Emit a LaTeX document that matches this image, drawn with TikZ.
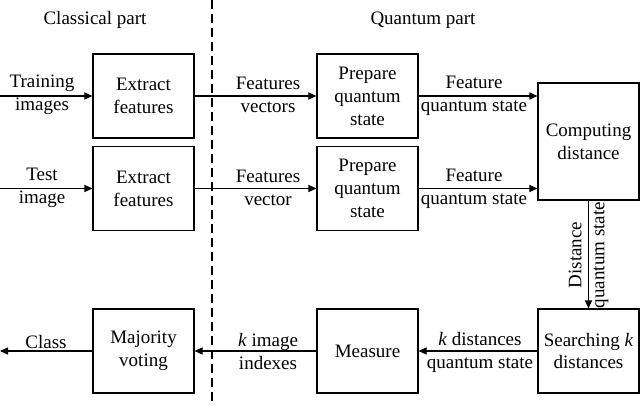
\documentclass[tikz,border=0pt]{standalone}
\usepackage{fontspec}
\setmainfont{Liberation Serif}
\usetikzlibrary{arrows.meta}
\begin{document}
\begin{tikzpicture}[x=1pt,y=-1pt,
  every node/.style={font=\fontsize{19}{23}\selectfont, align=center, inner sep=0pt},
  blk/.style={draw, line width=1.1pt, minimum width=101pt, minimum height=84pt},
  conn/.style={line width=1.1pt, -{Triangle[length=8pt,width=7pt]}},
  sep/.style={line width=1.2pt, dash pattern=on 9pt off 5pt}]
\useasboundingbox (0,0) rectangle (640,406);
% headers
\node (hc) at (95,20) {Classical part};
\node (hq) at (423,20) {Quantum part};
% separator
\coordinate (st) at (212,0);
\coordinate (sb) at (212,406);
\draw[sep] (st) -- (sb);
% boxes
\node[blk] (e1) at (143.5,96) {Extract\\features};
\node[blk] (e2) at (143.5,188.5) {Extract\\features};
\node[blk] (p1) at (367.5,96) {Prepare\\quantum\\state};
\node[blk] (p2) at (367.5,188.5) {Prepare\\quantum\\state};
\node[blk, minimum height=117pt] (cd) at (588.5,141.5) {Computing\\distance};
\node[blk] (sk) at (588.5,351) {Searching \textit{k}\\distances};
\node[blk] (ms) at (367.5,351) {Measure};
\node[blk] (mv) at (143.5,351) {Majority\\voting};
% inputs / outputs
\coordinate (in1) at (0,96);
\coordinate (in2) at (0,188.5);
\coordinate (out) at (0,351);
\draw[conn] (in1) -- (e1.west);
\draw[conn] (in2) -- (e2.west);
\draw[conn] (e1.east) -- (p1.west);
\draw[conn] (e2.east) -- (p2.west);
\draw[conn] (p1.east) -- (p1.east -| cd.west);
\draw[conn] (p2.east) -- (p2.east -| cd.west);
\draw[conn] (cd.south) -- (sk.north);
\draw[conn] (sk.west) -- (ms.east);
\draw[conn] (ms.west) -- (mv.east);
\draw[conn] (mv.west) -- (out);
% labels
\node (l1) at (42,95) {Training\\images};
\node (l2) at (42,187.5) {Test\\image};
\node (l3) at (268,95) {Features\\vectors};
\node (l4) at (268,187.5) {Features\\vector};
\node (l5) at (474,96) {Feature\\quantum state};
\node (l6) at (474,188.5) {Feature\\quantum state};
\node[rotate=90] (l7) at (588.5,255) {Distance\\quantum state};
\node (l8) at (480,352) {\textit{k} distances\\quantum state};
\node (l9) at (268,352) {\textit{k} image\\indexes};
\node (l10) at (46,342) {Class};
\end{tikzpicture}
\end{document}
